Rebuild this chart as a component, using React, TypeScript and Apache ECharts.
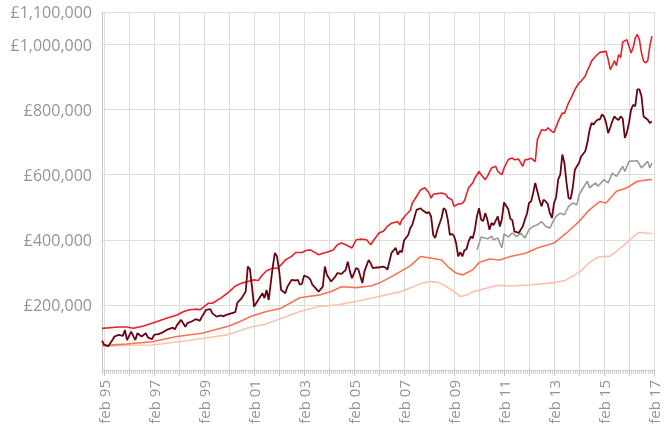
import React, { useEffect, useRef } from "react";
import * as echarts from "echarts";

// Month index 0 = jan 95, 265 = feb 17
const monthNames = ["jan", "feb", "mar", "apr", "may", "jun", "jul", "aug", "sep", "oct", "nov", "dec"];
const months: string[] = [];
for (let i = 0; i <= 265; i++) {
  const y = 1995 + Math.floor(i / 12);
  months.push(`${monthNames[i % 12]} ${String(y).slice(2)}`);
}

// values in £ thousands, [monthIndex, value]
const lightPink: [number, number][] = [
  [0, 72], [12, 76], [24, 77], [36, 86], [48, 97], [60, 108], [72, 133], [78, 140], [85, 156],
  [95, 180], [104, 195], [113, 200], [123, 212], [133, 226], [143, 240], [153, 265], [157, 272],
  [161, 270], [164, 262], [168, 245], [172, 226], [175, 230], [178, 240], [185, 252], [190, 260],
  [196, 258], [206, 262], [215, 267], [222, 274], [229, 300], [234, 330], [238, 347], [244, 350],
  [247, 365], [251, 385], [256, 415], [258, 423], [261, 421], [264, 420],
];

const salmon: [number, number][] = [
  [0, 75], [12, 80], [24, 87], [36, 103], [48, 113], [61, 135], [66, 148], [72, 166], [79, 180],
  [86, 190], [95, 222], [99, 226], [104, 230], [110, 241], [115, 256], [122, 253], [129, 258],
  [133, 267], [139, 287], [148, 320], [153, 349], [157, 345], [163, 338], [166, 318], [170, 298],
  [173, 292], [178, 308], [181, 330], [186, 341], [191, 338], [196, 349], [200, 354], [204, 360],
  [209, 375], [217, 390], [223, 421], [229, 456], [234, 492], [238, 513], [239, 518], [242, 513],
  [247, 549], [252, 560], [257, 580], [263, 585], [264, 585],
];

const grey: [number, number][] = [
  [180, 369], [182, 409], [185, 403], [187, 411], [188, 400], [190, 406], [192, 375], [193, 418],
  [195, 409], [197, 421], [199, 410], [201, 421], [203, 406], [205, 431], [207, 441], [209, 446],
  [211, 456], [213, 441], [215, 436], [217, 462], [218, 472], [220, 482], [222, 477], [224, 503],
  [226, 513], [228, 508], [229, 538], [231, 560], [233, 580], [234, 560], [237, 575], [238, 564],
  [241, 585], [243, 575], [245, 605], [247, 595], [250, 626], [251, 610], [253, 641], [257, 643],
  [259, 621], [262, 641], [263, 621], [264, 636],
];

const darkRed: [number, number][] = [
  [0, 90], [1, 78], [3, 73], [5, 92], [6, 103], [8, 108], [10, 105], [11, 123], [12, 92], [14, 118],
  [16, 92], [17, 113], [19, 103], [21, 113], [22, 100], [24, 95], [25, 108], [27, 110], [29, 115],
  [31, 123], [34, 130], [35, 125], [36, 138], [38, 154], [40, 133], [41, 144], [43, 149], [45, 156],
  [47, 152], [48, 164], [50, 185], [52, 187], [53, 174], [55, 164], [57, 168], [58, 165], [60, 170],
  [62, 174], [64, 178], [65, 207], [67, 220], [69, 242], [70, 318], [71, 310], [72, 256], [73, 195],
  [75, 215], [77, 236], [78, 221], [79, 246], [80, 215], [82, 318], [83, 360], [84, 349], [85, 308],
  [86, 246], [88, 236], [89, 256], [91, 277], [93, 275], [94, 277], [95, 262], [96, 265], [97, 290],
  [99, 285], [100, 278], [101, 262], [104, 241], [106, 256], [107, 318], [108, 292], [110, 272],
  [112, 287], [113, 298], [115, 295], [117, 308], [118, 333], [119, 303], [120, 282], [122, 313],
  [123, 310], [125, 267], [126, 303], [128, 338], [129, 328], [130, 313], [132, 315], [133, 315],
  [135, 318], [136, 315], [137, 308], [139, 360], [141, 375], [142, 354], [143, 366], [144, 362],
  [145, 398], [147, 415], [148, 436], [149, 446], [151, 492], [153, 497], [154, 490], [156, 482],
  [157, 485], [158, 472], [159, 415], [160, 406], [161, 431], [163, 467], [164, 497], [165, 492],
  [166, 462], [167, 415], [168, 418], [169, 412], [170, 390], [171, 349], [172, 362], [173, 349],
  [174, 368], [175, 372], [176, 395], [177, 410], [178, 405], [179, 431], [180, 472], [181, 497],
  [182, 462], [183, 458], [184, 482], [185, 462], [186, 431], [187, 452], [188, 445], [190, 472],
  [191, 441], [192, 465], [193, 515], [194, 505], [195, 495], [196, 465], [197, 460], [198, 425],
  [199, 424], [200, 421], [201, 431], [202, 441], [203, 462], [204, 480], [205, 513], [206, 518],
  [207, 544], [208, 575], [209, 549], [210, 523], [211, 503], [212, 523], [213, 518], [214, 510],
  [215, 482], [216, 467], [217, 513], [218, 530], [219, 585], [220, 600], [221, 662], [222, 636],
  [223, 575], [224, 528], [225, 526], [226, 560], [227, 615], [228, 626], [229, 636], [230, 656],
  [232, 672], [233, 698], [234, 735], [235, 759], [236, 754], [237, 764], [238, 769], [239, 770],
  [240, 785], [241, 779], [242, 760], [243, 728], [244, 745], [245, 765], [246, 779], [247, 772],
  [248, 768], [249, 779], [250, 772], [251, 713], [252, 730], [253, 760], [254, 800], [255, 815],
  [256, 810], [257, 862], [258, 862], [259, 841], [260, 779], [262, 769], [263, 759], [264, 764],
];

const red: [number, number][] = [
  [0, 128], [8, 132], [12, 132], [15, 128], [20, 135], [24, 144], [31, 159], [36, 169], [39, 179],
  [42, 185], [46, 187], [47, 185], [49, 195], [51, 205], [53, 205], [57, 221], [61, 240], [64, 258],
  [67, 267], [70, 272], [73, 277], [75, 275], [77, 292], [79, 305], [82, 313], [84, 312], [86, 323],
  [88, 338], [91, 349], [93, 361], [96, 361], [98, 367], [100, 369], [102, 362], [104, 354],
  [106, 359], [108, 362], [111, 369], [113, 385], [115, 390], [117, 385], [120, 375], [122, 400],
  [124, 402], [127, 400], [129, 385], [130, 395], [133, 421], [135, 426], [137, 441], [139, 451],
  [142, 456], [143, 446], [144, 462], [146, 477], [148, 490], [149, 513], [151, 533], [153, 554],
  [155, 560], [157, 544], [158, 528], [159, 540], [161, 542], [163, 544], [165, 540], [166, 530],
  [168, 523], [169, 503], [171, 510], [173, 512], [174, 520], [176, 560], [178, 575], [179, 590],
  [181, 610], [182, 600], [184, 585], [185, 595], [187, 621], [189, 626], [190, 610], [192, 600],
  [193, 620], [195, 646], [196, 650], [197, 651], [198, 646], [200, 648], [202, 626], [203, 645],
  [205, 648], [206, 651], [208, 640], [209, 708], [211, 738], [213, 736], [214, 744], [216, 733],
  [217, 730], [219, 764], [221, 790], [222, 788], [224, 821], [226, 846], [227, 862], [229, 882],
  [230, 887], [232, 903], [233, 920], [234, 933], [235, 949], [237, 964], [239, 976], [242, 979],
  [243, 954], [244, 923], [245, 935], [246, 950], [247, 935], [248, 969], [249, 960], [250, 1008],
  [252, 1015], [253, 995], [254, 974], [255, 990], [256, 1020], [257, 1031], [258, 1015], [259, 974],
  [260, 949], [261, 944], [262, 950], [263, 995], [264, 1026],
];

const yTicks = { min: 0, max: 1100000, interval: 200000 };

const toPounds = (arr: [number, number][]) => arr.map(([m, v]) => [m, v * 1000]);

export default function App() {
  const ref = useRef<HTMLDivElement>(null);
  useEffect(() => {
    if (!ref.current) return;
    const chart = echarts.init(ref.current, null, { renderer: "svg" });
    const font = "'Open Sans', sans-serif";
    const line = (name: string, data: [number, number][], color: string, width: number) => ({
      name,
      type: "line",
      data: toPounds(data),
      showSymbol: false,
      symbol: "none",
      lineStyle: { color, width },
      itemStyle: { color },
      z: 2,
    });
    chart.setOption({
      animation: false,
      grid: { left: 102, right: 10, top: 12, bottom: 58, containLabel: false },
      xAxis: [
        {
          type: "category",
          data: months,
          boundaryGap: false,
          axisLine: { show: true, lineStyle: { color: "#c8c8c8", width: 1 } },
          axisTick: { show: true, interval: 0, length: 4, lineStyle: { color: "#d0d0d0" } },
          axisLabel: {
            interval: (i: number) => i % 24 === 1,
            rotate: 90,
            margin: 10,
            color: "#949494",
            fontFamily: font,
            fontSize: 15,
          },
          splitLine: {
            show: true,
            interval: (i: number) => i % 12 === 1,
            lineStyle: { color: "#dcdcdc", width: 1 },
          },
        },
        {
          type: "category",
          data: months,
          position: "bottom",
          boundaryGap: false,
          axisLine: { show: false },
          axisTick: { show: true, interval: (i: number) => i % 12 === 1, length: 6, lineStyle: { color: "#c4c4c4" } },
          axisLabel: { show: false },
          splitLine: { show: false },
        },
      ],
      yAxis: {
        type: "value",
        min: yTicks.min,
        max: yTicks.max,
        interval: yTicks.interval,
        axisLine: { show: true, lineStyle: { color: "#c8c8c8" } },
        axisTick: { show: false },
        axisLabel: {
          showMaxLabel: true,
          margin: 10,
          color: "#949494",
          fontFamily: font,
          fontSize: 16,
          formatter: (v: number) => (v === 0 ? "" : "£" + v.toLocaleString("en-GB")),
        },
        splitLine: { show: true, lineStyle: { color: "#dcdcdc", width: 1 } },
      },
      series: [
        line("Light", lightPink, "#fcc2ab", 1.6),
        line("Salmon", salmon, "#f8734f", 1.6),
        line("Grey", grey, "#9a9a9a", 1.6),
        line("Red", red, "#e8202c", 1.6),
        line("Dark red", darkRed, "#6a0410", 1.8),
      ],
    });
    return () => chart.dispose();
  }, []);
  return <div ref={ref} style={{ position: "fixed", left: 0, top: 0, width: 664, height: 428 }} />;
}
